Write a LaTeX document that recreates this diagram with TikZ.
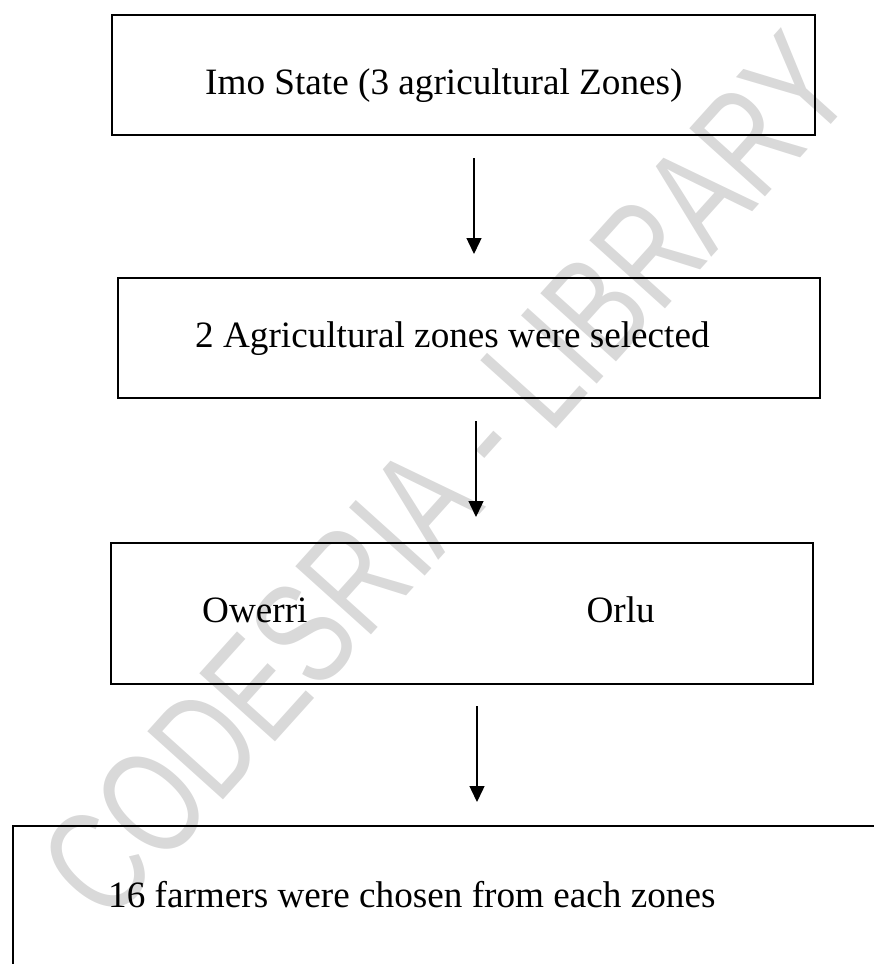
\documentclass[tikz,border=0pt]{standalone}
\usepackage{fontspec}
\setmainfont{Liberation Serif}
\newfontfamily\wmfont[FakeStretch=0.73]{Liberation Sans}
\usetikzlibrary{arrows.meta}
\definecolor{wmgray}{HTML}{D9D9D9}
\begin{document}
\begin{tikzpicture}[x=1pt,y=-1pt,
  box/.style={draw, line width=1.8pt, inner sep=0pt, anchor=north west},
  lbl/.style={font=\fontsize{37.2}{44}\selectfont, inner sep=0pt, anchor=base west},
  flow/.style={line width=1.4pt, -{Triangle[length=16pt,width=15pt]}}]
\useasboundingbox (0,0) rectangle (874,964);
\clip (0,0) rectangle (874,964);
% watermark
\node[font=\wmfont\fontsize{148}{148}\selectfont, text=wmgray, rotate=48, inner sep=0pt] (wm) at (446,476) {CODESRIA - LIBRARY};
% boxes
\node[box, minimum width=703pt, minimum height=120pt] (b1) at (111,14) {};
\node[box, minimum width=702pt, minimum height=120pt] (b2) at (117,277) {};
\node[box, minimum width=702pt, minimum height=141pt] (b3) at (110,542) {};
\node[box, minimum width=880pt, minimum height=160pt] (b4) at (12,825) {};
% texts
\node[lbl] (t1) at (205,94) {Imo State (3 agricultural Zones)};
\node[lbl] (t2) at (195,347) {2 Agricultural zones were selected};
\node[lbl] (t3a) at (202,622) {Owerri};
\node[lbl, anchor=base east] (t3b) at (655,622) {Orlu};
\node[lbl] (t4) at (108,907) {16 farmers were chosen from each zones};
% arrows
\coordinate (a1s) at (474,158); \coordinate (a1e) at (474,254);
\coordinate (a2s) at (476,421); \coordinate (a2e) at (476,517);
\coordinate (a3s) at (477,706); \coordinate (a3e) at (477,802);
\draw[flow] (a1s) -- (a1e);
\draw[flow] (a2s) -- (a2e);
\draw[flow] (a3s) -- (a3e);
\end{tikzpicture}
\end{document}
